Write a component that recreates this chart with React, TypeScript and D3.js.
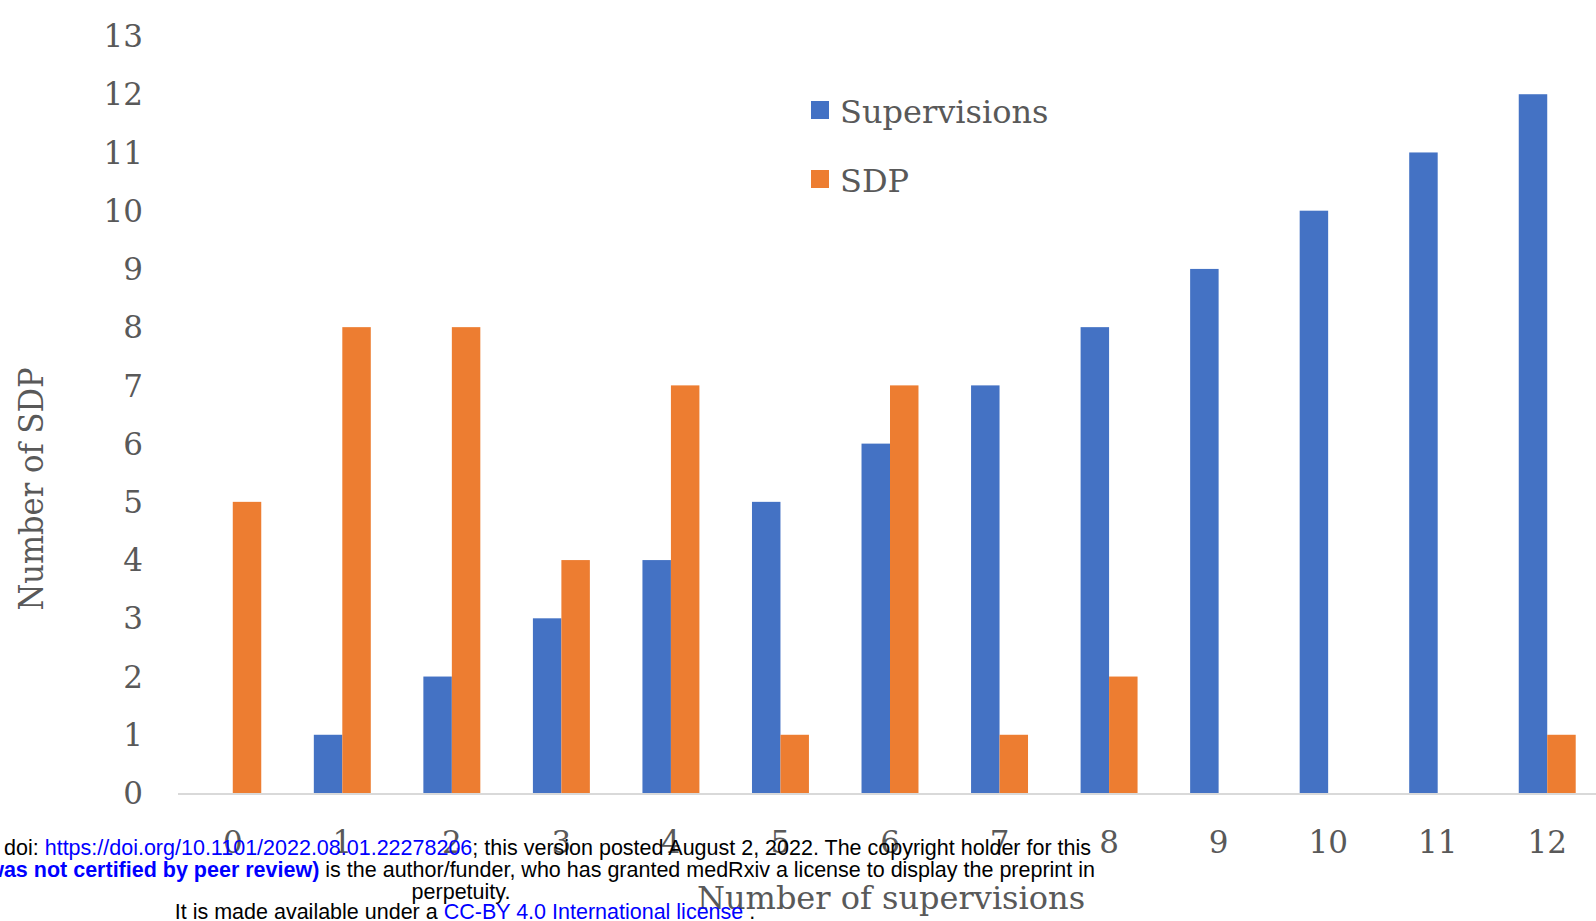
// Grouped bars: supervisions vs SDP per number of supervisions, with the
// medRxiv footer text laid over the bottom of the picture.

import * as d3 from "d3";

const categories = ["0", "1", "2", "3", "4", "5", "6", "7", "8", "9", "10", "11", "12"];
const supervisions = [0, 1, 2, 3, 4, 5, 6, 7, 8, 9, 10, 11, 12];
const sdp = [5, 8, 8, 4, 7, 1, 7, 1, 2, 0, 0, 0, 1];
const seriesNames = ["Supervisions", "SDP"];
const yTicks = d3.range(0, 14);

const W = 1596, H = 921;
const BLUE = "#4472C4", ORANGE = "#ED7D31", GREY = "#595959";
const SERIF = "'DejaVu Serif', serif";
const SANS = "'Liberation Sans', Arial, sans-serif";

export default function App() {
  const x = d3.scaleBand<string>().domain(categories).range([178, 1602])
    .paddingInner(0.48).paddingOuter(0.24);
  const x1 = d3.scaleBand<string>().domain(seriesNames).range([0, x.bandwidth()]);
  const y = d3.scaleLinear().domain([0, 13]).range([793, 36]);
  const colors = [BLUE, ORANGE];
  const values = [supervisions, sdp];

  return (
    <svg width={W} height={H} style={{ position: "absolute", left: 0, top: 0, background: "#fff" }}>
      {/* y tick labels */}
      {yTicks.map((t) => (
        <text key={t} x={143} y={y(t)} dy="0.36em" textAnchor="end"
              fontFamily={SERIF} fontSize={31} fill={GREY}>{t}</text>
      ))}
      <text transform="translate(43,489) rotate(-90)" textAnchor="middle"
            fontFamily={SERIF} fontSize={34} fill={GREY} style={{ fontStretch: "condensed" }}>
        Number of SDP
      </text>

      {/* bars */}
      {categories.map((c, i) => (
        <g key={c} transform={`translate(${x(c)},0)`}>
          {seriesNames.map((s, k) => {
            const v = values[k][i];
            if (!v) return null;
            return <rect key={s} x={x1(s)} width={x1.bandwidth()} y={y(v)}
                         height={y(0) - y(v)} fill={colors[k]} />;
          })}
        </g>
      ))}
      <line x1={178} x2={W} y1={y(0) + 1} y2={y(0) + 1} stroke="#d9d9d9" strokeWidth={2} />

      {/* x tick labels */}
      {categories.map((c) => (
        <text key={c} x={(x(c) ?? 0) + x.bandwidth() / 2} y={853} textAnchor="middle"
              fontFamily={SERIF} fontSize={31} fill={GREY}>{c}</text>
      ))}
      <text x={891} y={909} textAnchor="middle" fontFamily={SERIF} fontSize={32} fill={GREY}>
        Number of supervisions
      </text>

      {/* legend */}
      {seriesNames.map((s, k) => (
        <g key={s} transform={`translate(811,${101 + k * 69})`}>
          <rect width={18} height={18} fill={colors[k]} />
          <text x={29} y={10} dy="0.36em" fontFamily={SERIF} fontSize={32} fill={GREY}>{s}</text>
        </g>
      ))}

      {/* medRxiv footer overlay */}
      <g fontFamily={SANS} fontSize={21.5} fill="#000">
        <text x={1091} y={855} textAnchor="end">
          medRxiv preprint doi: <tspan fill="#0000ff">https://doi.org/10.1101/2022.08.01.22278206</tspan>; this version posted August 2, 2022. The copyright holder for this
        </text>
        <text x={1095} y={877} textAnchor="end">
          preprint <tspan fill="#0000ff" fontWeight="bold">(which was not certified by peer review)</tspan> is the author/funder, who has granted medRxiv a license to display the preprint in
        </text>
        <text x={461} y={899} textAnchor="middle">perpetuity.</text>
        <text x={465} y={919} textAnchor="middle">
          It is made available under a <tspan fill="#0000ff">CC-BY 4.0 International license</tspan> .
        </text>
      </g>
    </svg>
  );
}
